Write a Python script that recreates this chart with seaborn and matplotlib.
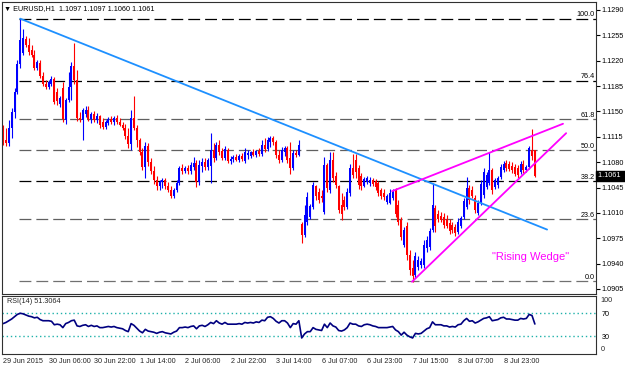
import numpy as np
import pandas as pd
import matplotlib
matplotlib.use('Agg')
import matplotlib.pyplot as plt
import matplotlib.transforms as mtransforms
import seaborn as sns

# EURUSD H1 bars, prices in 1e-4 units (11127 -> 1.1127)
opens = [
    11127, 11111, 11107, 11127, 11149, 11177, 11216, 11231, 11250, 11242,
    11235, 11228, 11210, 11217, 11199, 11188, 11184, 11188, 11195, 11177,
    11160, 11183, 11138, 11166, 11184, 11213, 11194, 11141, 11138, 11147,
    11152, 11140, 11147, 11138, 11144, 11136, 11129, 11134, 11140, 11136,
    11141, 11136, 11131, 11127, 11116, 11105, 11141, 11127, 11111, 11094,
    11073, 11102, 11080, 11068, 11056, 11047, 11053, 11056, 11047, 11042,
    11033, 11042, 11051, 11072, 11068, 11072, 11068, 11073, 11079, 11053,
    11075, 11080, 11073, 11075, 11097, 11086, 11104, 11096, 11086, 11097,
    11082, 11085, 11087, 11083, 11089, 11082, 11090, 11089, 11094, 11090,
    11096, 11091, 11104, 11098, 11108, 11114, 11108, 11090, 11083, 11094,
    11100, 11086, 11072, 11093, 11090, 10995, 10980, 10998, 11004, 11018,
    11047, 11039, 11033, 11011, 11076, 11042, 11083, 11061, 11047, 11021,
    11028, 11018, 11038, 11072, 11083, 11072, 11061, 11047, 11053, 11051,
    11056, 11054, 11051, 11042, 11038, 11025, 11024, 11031, 11042, 11021,
    11000, 10966, 10992, 10952, 10934, 10925, 10936, 10938, 10938, 10962,
    10963, 10987, 11017, 11009, 11006, 11004, 11002, 10996, 10993, 10991,
    10984, 10992, 11004, 11018, 11045, 11042, 11031, 11010, 11024, 11035,
    11046, 11051, 11069, 11046, 11049, 11060, 11069, 11079, 11078, 11075,
    11073, 11072, 11067, 11078, 11069, 11073, 11097, 11097]
highs = [
    11131, 11127, 11138, 11155, 11183, 11221, 11278, 11264, 11254, 11252,
    11242, 11235, 11221, 11221, 11205, 11194, 11194, 11199, 11198, 11183,
    11171, 11191, 11169, 11205, 11218, 11245, 11207, 11149, 11155, 11158,
    11158, 11149, 11151, 11148, 11145, 11141, 11138, 11142, 11144, 11144,
    11145, 11141, 11136, 11133, 11127, 11152, 11171, 11131, 11114, 11100,
    11108, 11107, 11086, 11075, 11061, 11056, 11058, 11058, 11053, 11047,
    11045, 11056, 11075, 11078, 11075, 11076, 11080, 11087, 11083, 11083,
    11086, 11086, 11086, 11120, 11107, 11108, 11111, 11100, 11102, 11100,
    11089, 11090, 11091, 11091, 11093, 11100, 11097, 11096, 11098, 11097,
    11100, 11111, 11114, 11115, 11116, 11116, 11111, 11097, 11101, 11102,
    11102, 11108, 11097, 11097, 11111, 10998, 11021, 11039, 11022, 11053,
    11049, 11045, 11042, 11087, 11079, 11094, 11094, 11067, 11049, 11038,
    11033, 11045, 11078, 11091, 11091, 11076, 11065, 11060, 11061, 11060,
    11058, 11057, 11054, 11045, 11043, 11036, 11043, 11043, 11045, 11028,
    11004, 10991, 10998, 10959, 10945, 10956, 10951, 10948, 10973, 10978,
    10989, 11051, 11021, 11014, 11011, 11010, 11007, 11002, 10998, 10995,
    11003, 11006, 11031, 11060, 11049, 11047, 11035, 11028, 11056, 11072,
    11067, 11094, 11072, 11058, 11061, 11078, 11082, 11083, 11082, 11080,
    11078, 11076, 11082, 11083, 11076, 11102, 11126, 11097]
lows = [
    11104, 11102, 11102, 11114, 11141, 11174, 11210, 11228, 11239, 11228,
    11225, 11207, 11207, 11196, 11185, 11181, 11181, 11185, 11160, 11159,
    11156, 11136, 11133, 11163, 11166, 11188, 11137, 11136, 11111, 11142,
    11137, 11134, 11136, 11134, 11127, 11126, 11126, 11131, 11133, 11131,
    11133, 11130, 11125, 11112, 11100, 11097, 11125, 11101, 11090, 11069,
    11058, 11075, 11064, 11050, 11042, 11042, 11045, 11043, 11039, 11031,
    11031, 11039, 11049, 11064, 11065, 11064, 11064, 11069, 11046, 11049,
    11067, 11069, 11069, 11051, 11080, 11083, 11090, 11083, 11083, 11079,
    11078, 11080, 11082, 11080, 11082, 11079, 11085, 11086, 11089, 11087,
    11089, 11089, 11094, 11096, 11101, 11104, 11086, 11079, 11080, 11089,
    11079, 11064, 11069, 11087, 11089, 10969, 10977, 10993, 11002, 11016,
    11028, 11024, 11025, 11009, 11039, 11038, 11053, 11045, 11010, 11000,
    11014, 11016, 11033, 11058, 11058, 11043, 11042, 11046, 11050, 11047,
    11047, 11042, 11033, 11029, 11028, 11022, 11022, 11028, 11004, 10993,
    10973, 10963, 10945, 10925, 10915, 10920, 10931, 10934, 10934, 10956,
    10959, 10984, 10984, 10998, 10998, 10989, 10989, 10981, 10982, 10978,
    10981, 10989, 11002, 11016, 11022, 11031, 11010, 11007, 11021, 11031,
    11043, 11049, 11036, 11043, 11045, 11057, 11067, 11068, 11068, 11065,
    11061, 11058, 11064, 11065, 11067, 11071, 11083, 11060]
closes = [
    11111, 11107, 11127, 11149, 11177, 11216, 11249, 11252, 11242, 11232,
    11228, 11210, 11218, 11199, 11188, 11184, 11191, 11195, 11163, 11165,
    11169, 11140, 11166, 11184, 11213, 11194, 11141, 11138, 11152, 11152,
    11140, 11147, 11138, 11144, 11131, 11129, 11136, 11140, 11136, 11141,
    11136, 11131, 11127, 11116, 11105, 11141, 11127, 11111, 11094, 11073,
    11102, 11080, 11068, 11056, 11047, 11053, 11056, 11047, 11042, 11033,
    11042, 11051, 11072, 11068, 11072, 11068, 11076, 11079, 11053, 11076,
    11080, 11073, 11083, 11097, 11086, 11104, 11094, 11086, 11098, 11082,
    11085, 11087, 11083, 11089, 11085, 11094, 11093, 11094, 11090, 11096,
    11091, 11104, 11098, 11111, 11114, 11108, 11090, 11083, 11097, 11100,
    11083, 11072, 11093, 11090, 11104, 10980, 11007, 11032, 11020, 11049,
    11033, 11028, 11031, 11076, 11045, 11083, 11058, 11049, 11014, 11009,
    11018, 11039, 11072, 11062, 11067, 11049, 11047, 11057, 11058, 11056,
    11050, 11046, 11038, 11033, 11032, 11033, 11038, 11040, 11009, 10998,
    10977, 10987, 10952, 10931, 10923, 10951, 10945, 10944, 10966, 10973,
    10985, 11021, 10992, 11002, 11000, 10993, 10992, 10985, 10987, 10982,
    10998, 11003, 11027, 11045, 11028, 11033, 11014, 11024, 11050, 11067,
    11062, 11069, 11042, 11056, 11058, 11073, 11078, 11072, 11071, 11069,
    11064, 11062, 11078, 11069, 11073, 11100, 11089, 11061]

rsi14 = [
    52, 54, 57, 60, 64, 68, 70, 69, 67, 65,
    64, 62, 63, 59, 57, 57, 57, 56, 50, 51,
    50, 45, 52, 54, 57, 58, 48, 47, 49, 50,
    47, 49, 47, 48, 45, 45, 46, 47, 46, 47,
    45, 44, 43, 40, 38, 52, 49, 44, 39, 36,
    42, 39, 38, 37, 35, 37, 38, 36, 35, 34,
    37, 39, 45, 45, 46, 45, 47, 48, 43, 48,
    49, 47, 50, 54, 52, 57, 53, 51, 54, 51,
    51, 51, 51, 52, 51, 54, 53, 54, 53, 55,
    54, 58, 57, 63, 64, 61, 56, 53, 57, 57,
    53, 45, 52, 51, 57, 27, 34, 38, 38, 45,
    42, 41, 40, 51, 45, 53, 48, 46, 40, 39,
    41, 45, 53, 51, 51, 48, 47, 50, 51, 50,
    48, 47, 45, 45, 45, 45, 46, 47, 41, 38,
    32, 37, 32, 29, 27, 35, 34, 35, 39, 43,
    45, 55, 50, 50, 50, 48, 48, 46, 47, 46,
    50, 51, 57, 61, 56, 57, 53, 55, 58, 61,
    62, 64, 57, 58, 59, 62, 63, 60, 60, 59,
    58, 58, 61, 60, 61, 68, 66, 51.3064]

date_labels = ['29 Jun 2015', '30 Jun 06:00', '30 Jun 22:00', '1 Jul 14:00',
               '2 Jul 06:00', '2 Jul 22:00', '3 Jul 14:00', '6 Jul 07:00',
               '6 Jul 23:00', '7 Jul 15:00', '8 Jul 07:00', '8 Jul 23:00']
date_bars = [0, 16, 32, 48, 64, 80, 96, 112, 128, 144, 160, 176]

# fibonacci retracement between the 29 Jun high and the 7 Jul low
fib_high = 1.1278
fib_low = 1.0916
fib_start_bar = 5.6
fib_pcts = [100.0, 76.4, 61.8, 50.0, 38.2, 23.6, 0.0]
fib_colors = ['black', 'black', '#606060', '#606060', 'black', '#606060', '#707070']

# trend lines (bar index, price)
trend_down = ([6, 191.3], [1.1278, 1.0987])
wedge_top = ([136.8, 196.9], [1.1040, 1.1133])
wedge_bottom = ([143.8, 198.0], [1.0915, 1.1120])

header = 'EURUSD,H1  1.1097 1.1097 1.1060 1.1061'
rsi_label = 'RSI(14) 51.3064'
last_price = 1.1061

BLUE = '#0000ff'
RED = '#ff0000'
MAGENTA = '#ff00ff'
SMALL = 5.2


def draw_candles(ax, df):
    up = df['close'] >= df['open']
    colors = np.where(up, BLUE, RED)
    ax.vlines(df['bar'], df['low'], df['high'], colors=colors, lw=0.8)
    body_low = df[['open', 'close']].min(axis=1)
    body_h = (df['close'] - df['open']).abs().clip(lower=0.00008)
    ax.bar(df['bar'], body_h, bottom=body_low, width=0.7, color=colors, lw=0)


def main():
    sns.set_style('white')
    plt.rcParams['font.family'] = ['Liberation Sans', 'DejaVu Sans']

    df = pd.DataFrame({'open': opens, 'high': highs, 'low': lows, 'close': closes}) / 1e4
    df['bar'] = np.arange(len(df))
    rsi_df = pd.DataFrame({'bar': df['bar'], 'rsi': rsi14})

    fig = plt.figure(figsize=(6.25, 3.67), dpi=100)
    ax = fig.add_axes([2 / 625, 1 - 294 / 367, 594 / 625, 292 / 367])
    rax = fig.add_axes([2 / 625, 1 - 353.5 / 367, 594 / 625, 57.5 / 367], sharex=ax)

    xmax = 208.5
    ax.set_xlim(-0.35, xmax)
    ax.set_ylim(1.08981, 1.13010)

    # fibonacci levels
    for pct, col in zip(fib_pcts, fib_colors):
        lvl = fib_low + pct / 100 * (fib_high - fib_low)
        ax.plot([fib_start_bar, xmax], [lvl, lvl], color=col, lw=0.9,
                ls=(0, (9.5, 4)), zorder=1)
        ax.text(xmax - 0.4, lvl + 0.00003, f'{pct:.1f}', ha='right', va='bottom',
                fontsize=SMALL, color='black')

    draw_candles(ax, df)

    sns.lineplot(x=trend_down[0], y=trend_down[1], ax=ax, color='#1e90ff', lw=1.3)
    sns.lineplot(x=wedge_top[0], y=wedge_top[1], ax=ax, color=MAGENTA, lw=1.3)
    sns.lineplot(x=wedge_bottom[0], y=wedge_bottom[1], ax=ax, color=MAGENTA, lw=1.3)

    ax.text(172, 1.0949, '"Rising Wedge"', color=MAGENTA, fontsize=8,
            va='center', ha='left')

    ax.text(0.004, 0.99, '\u25bc ' + header, transform=ax.transAxes,
            ha='left', va='top', fontsize=SMALL, color='black')

    ticks = np.arange(1.0905, 1.1291, 0.0035)
    ax.yaxis.tick_right()
    ax.set_yticks(ticks)
    ax.set_yticklabels([f'{v:.4f}' for v in ticks])
    ax.tick_params(axis='y', direction='out', length=3, pad=1.2, labelsize=SMALL,
                   colors='black')
    ax.tick_params(axis='x', bottom=False, labelbottom=False)
    ax.set(xlabel='', ylabel='')

    trans = mtransforms.blended_transform_factory(ax.transAxes, ax.transData)
    ax.text(1.003, last_price, '1.1061  ', transform=trans, ha='left', va='center',
            fontsize=SMALL, color='white', clip_on=False,
            bbox=dict(boxstyle='square,pad=0.25', fc='black', ec='black'))

    # RSI window
    rax.axhline(70, color='#20b2aa', lw=1, ls=(0, (1, 2)))
    rax.axhline(30, color='#20b2aa', lw=1, ls=(0, (1, 2)))
    sns.lineplot(data=rsi_df, x='bar', y='rsi', ax=rax, color='#000080', lw=1.2)
    rax.set_ylim(0, 100)
    rax.yaxis.tick_right()
    rax.set_yticks([70, 30])
    rax.set_yticklabels(['70', '30'])
    rax.tick_params(axis='y', length=0, pad=4, labelsize=SMALL, colors='black')
    rtrans = mtransforms.blended_transform_factory(rax.transAxes, rax.transData)
    rax.text(1.008, 93, '100', transform=rtrans, ha='left', va='center', fontsize=SMALL)
    rax.text(1.008, 7, '0', transform=rtrans, ha='left', va='center', fontsize=SMALL)
    rax.text(0.008, 0.97, rsi_label, transform=rax.transAxes, ha='left', va='top',
             fontsize=SMALL)

    rax.set_xticks([b - 0.4 for b in date_bars])
    rax.tick_params(axis='x', direction='out', length=3, labelbottom=False,
                    colors='black')
    xtrans = mtransforms.blended_transform_factory(rax.transData, rax.transAxes)
    for b, lab in zip(date_bars, date_labels):
        rax.text(b, -0.08, lab, transform=xtrans, ha='left', va='top', fontsize=SMALL)
    rax.set(xlabel='', ylabel='')

    for a in (ax, rax):
        for sp in a.spines.values():
            sp.set_color('#303030')
            sp.set_linewidth(0.8)

    fig.savefig('out.png', dpi=100)


if __name__ == '__main__':
    main()
